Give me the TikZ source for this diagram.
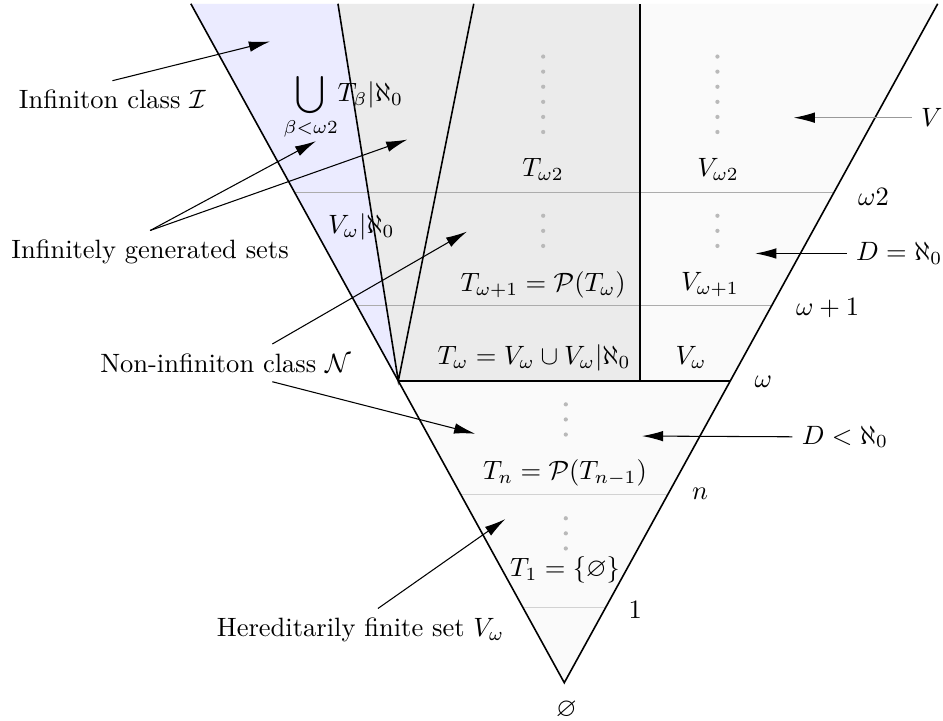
\documentclass[tikz,border=0pt]{standalone}
\usepackage{amsmath,amssymb}
\usetikzlibrary{arrows.meta}
\tikzset{
  edge/.style={draw=black,semithick},
  level/.style={draw=gray!65,thin},
  sublevel/.style={draw=gray!35,thin},
  arrow/.style={-{Latex[length=8pt,width=4pt,black]},draw=black,thin},
  dotc/.style={fill=gray!55}
}

\begin{document}
\begin{tikzpicture}
  \useasboundingbox (-7.48,-0.50) rectangle (5.02,9.05);
  \fill[black!2] (0,0) -- (-4.95,9) -- (4.95,9) -- cycle;
  \fill[blue!8] (-2.2,4) -- (-4.95,9) -- (-3,9) -- cycle;
  \fill[black!8] (-2.2,4) -- (-3,9) -- (1,9) -- (1,4) -- cycle;
  \draw[sublevel] (-0.55,1) -- (0.55,1);
  \draw[sublevel] (-1.375,2.5) -- (1.375,2.5);
  \draw[level] (-2.75,5) -- (2.75,5);
  \draw[level] (-3.575,6.5) -- (3.575,6.5);
  \draw[edge] (-4.95,9) -- (0,0) -- (4.95,9);
  \draw[edge] (-3,9) -- (-2.2,4) -- (-1.2,9);
  \draw[edge] (-2.2,4) -- (2.2,4);
  \draw[edge] (1,4) -- (1,9);
  \foreach \x in {-0.28,2.03}{
    \foreach \k in {0,...,5} \fill[dotc] (\x,7.3+0.2*\k) circle (0.028);
    \foreach \k in {0,1,2} \fill[dotc] (\x,5.79+0.2*\k) circle (0.028);
  }
  \foreach \k in {0,1,2}{
    \fill[dotc] (0.02,3.29+0.2*\k) circle (0.028);
    \fill[dotc] (0.02,1.78+0.2*\k) circle (0.028);
  }

  \node (o2) at (4.10,6.44) {$\omega2$};
  \node (o1) at (3.49,4.97) {$\omega+1$};
  \node (o0) at (2.64,3.99) {$\omega$};
  \node (on) at (1.80,2.51) {$n$};
  \node (one) at (0.94,0.97) {$1$};
  \node (empty) at (0.03,-0.36) {$\varnothing$};

  \node (tw2) at (-0.28,6.80) {$T_{\omega2}$};
  \node (vw2) at (2.04,6.80) {$V_{\omega2}$};
  \node (tw1) at (-0.28,5.28) {$T_{\omega+1}=\mathcal{P}(T_\omega)$};
  \node (vw1) at (1.93,5.28) {$V_{\omega+1}$};
  \node (tw) at (-0.40,4.31) {$T_\omega=V_\omega\cup V_\omega|\aleph_0$};
  \node (vw) at (1.68,4.31) {$V_\omega$};
  \node (tn) at (0.01,2.78) {$T_n=\mathcal{P}(T_{n-1})$};
  \node (t1) at (0.01,1.50) {$T_1=\{\varnothing\}$};
  \node (ub) at (-2.93,7.64) {$\displaystyle\bigcup_{\beta<\omega2}\!T_\beta|\aleph_0$};
  \node (vwa) at (-2.69,6.04) {$V_\omega|\aleph_0$};

  \node (lI) at (-5.99,7.73) {Infiniton class $\mathcal{I}$};
  \node (lIG) at (-5.49,5.71) {Infinitely generated sets};
  \node (lN) at (-4.49,4.24) {Non-infiniton class $\mathcal{N}$};
  \node (lHF) at (-2.70,0.70) {Hereditarily finite set $V_\omega$};
  \node (lV) at (4.87,7.49) {$V$};
  \node (lDeq) at (4.44,5.69) {$D=\aleph_0$};
  \node (lDlt) at (3.72,3.26) {$D<\aleph_0$};

  \coordinate (aI) at (-3.90,8.50);
  \coordinate (aG1) at (-3.29,7.18);
  \coordinate (aG2) at (-2.08,7.20);
  \coordinate (aN1) at (-1.29,5.98);
  \coordinate (aN2) at (-1.18,3.30);
  \coordinate (aHF) at (-0.78,2.17);
  \coordinate (aV) at (3.04,7.49);
  \coordinate (aDeq) at (2.53,5.69);
  \coordinate (aDlt) at (1.03,3.27);

  \draw[arrow] (lI.north) -- (aI);
  \draw[arrow] (lIG.north) -- (aG1);
  \draw[arrow] (lIG.north) -- (aG2);
  \draw[arrow] ([xshift=0.62cm]lN.north) -- (aN1);
  \draw[arrow] ([xshift=0.62cm]lN.south) -- (aN2);
  \draw[arrow] ([xshift=0.23cm]lHF.north) -- (aHF);
  \draw[arrow,draw=gray!80] (lV.west) -- (aV);
  \draw[arrow] (lDeq.west) -- (aDeq);
  \draw[arrow] (lDlt.west) -- (aDlt);
\end{tikzpicture}
\end{document}
